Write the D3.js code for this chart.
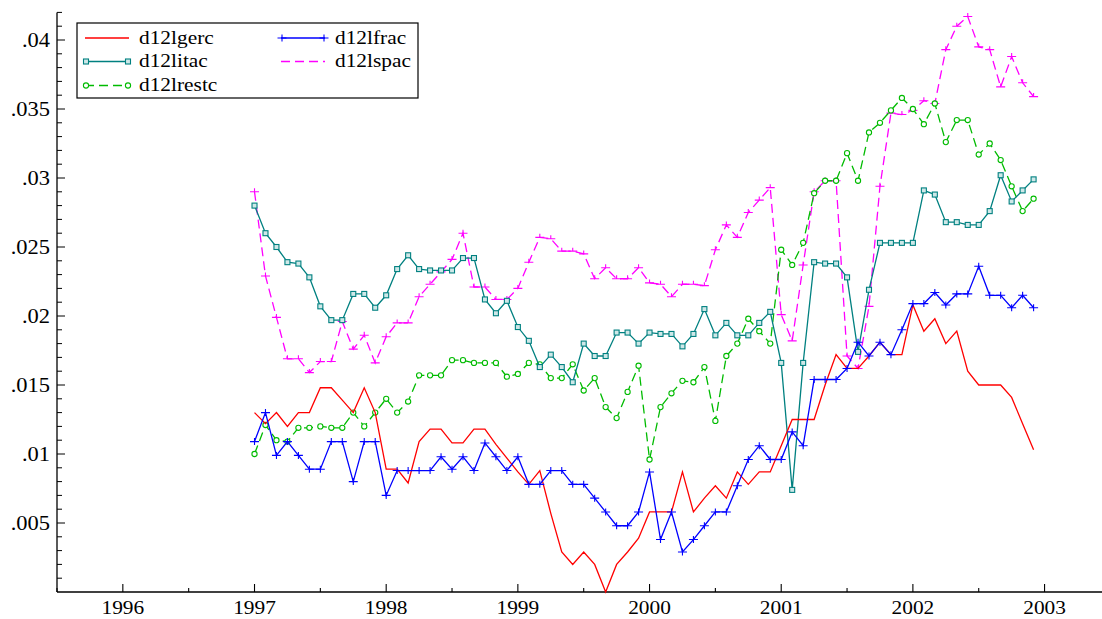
<!DOCTYPE html>
<html>
<head>
<meta charset="UTF-8">
<title>d12l series</title>
<style>
body { margin: 0; background: #fff; }
text { font-family: "Liberation Serif", "DejaVu Serif", "Times New Roman", Times, serif; fill: #000; }
</style>
</head>
<body>
<svg width="1102" height="619"></svg>
<script src="https://d3js.org/d3.v7.min.js"></script>
<script>
// monthly observations, Jan 1997 .. Dec 2002
var startYear = 1997, nMonths = 72;
var yearTicks = [1996, 1997, 1998, 1999, 2000, 2001, 2002, 2003];
var yTickLabels = [.005, .01, .015, .02, .025, .03, .035, .04];

var gerc = [.0130,.0122,.0130,.0120,.0130,.0130,.0148,.0148,.0139,.0130,.0148,.0130,
  .0089,.0089,.0079,.0109,.0118,.0118,.0108,.0108,.0118,.0118,.0107,.0097,
  .0087,.0078,.0088,.0057,.0029,.0020,.0029,.0020,.0000,.0020,.0029,.0039,
  .0058,.0058,.0058,.0087,.0058,.0068,.0077,.0068,.0087,.0078,.0087,.0087,
  .0106,.0125,.0125,.0125,.0150,.0172,.0162,.0162,.0171,.0181,.0172,.0172,
  .0208,.0189,.0198,.0180,.0189,.0160,.0150,.0150,.0150,.0141,.0122,.0103];

var frac = [.0109,.0130,.0099,.0109,.0099,.0089,.0089,.0109,.0109,.0080,.0109,.0109,
  .0070,.0088,.0088,.0088,.0088,.0098,.0089,.0098,.0088,.0108,.0098,.0088,
  .0098,.0078,.0078,.0088,.0088,.0078,.0078,.0068,.0058,.0048,.0048,.0058,
  .0087,.0038,.0058,.0029,.0038,.0048,.0058,.0058,.0077,.0096,.0106,.0096,
  .0096,.0116,.0106,.0154,.0154,.0154,.0162,.0181,.0171,.0181,.0172,.0190,
  .0209,.0209,.0217,.0208,.0216,.0216,.0236,.0215,.0215,.0206,.0215,.0206];

var itac = [.0280,.0260,.0250,.0239,.0238,.0228,.0207,.0197,.0197,.0216,.0216,.0206,
  .0215,.0234,.0244,.0234,.0233,.0233,.0233,.0242,.0242,.0212,.0202,.0211,
  .0192,.0182,.0163,.0172,.0163,.0152,.0180,.0171,.0171,.0188,.0188,.0180,
  .0188,.0187,.0187,.0178,.0187,.0205,.0186,.0195,.0186,.0186,.0195,.0203,
  .0166,.0074,.0166,.0239,.0238,.0238,.0228,.0174,.0219,.0253,.0253,.0253,
  .0253,.0291,.0288,.0268,.0268,.0266,.0266,.0276,.0302,.0283,.0291,.0299];

var spac = [.0290,.0229,.0199,.0169,.0169,.0159,.0167,.0167,.0196,.0176,.0186,.0166,
  .0185,.0195,.0195,.0214,.0223,.0232,.0241,.0260,.0221,.0221,.0212,.0212,
  .0220,.0239,.0257,.0256,.0247,.0247,.0245,.0227,.0235,.0227,.0227,.0235,
  .0224,.0223,.0214,.0223,.0223,.0222,.0248,.0266,.0257,.0275,.0284,.0293,
  .0201,.0182,.0237,.0290,.0298,.0298,.0171,.0162,.0207,.0294,.0347,.0346,
  .0349,.0356,.0354,.0393,.0410,.0417,.0395,.0393,.0366,.0388,.0369,.0359];

var restc = [.0100,.0121,.0110,.0109,.0119,.0119,.0120,.0119,.0119,.0130,.0120,.0130,
  .0140,.0130,.0138,.0157,.0157,.0157,.0168,.0168,.0166,.0166,.0166,.0156,
  .0158,.0166,.0165,.0155,.0155,.0165,.0146,.0155,.0134,.0126,.0145,.0164,
  .0096,.0134,.0144,.0153,.0152,.0163,.0124,.0171,.0180,.0198,.0189,.0180,
  .0248,.0237,.0253,.0289,.0298,.0298,.0318,.0298,.0333,.0340,.0349,.0358,
  .0350,.0339,.0354,.0326,.0342,.0342,.0317,.0325,.0313,.0294,.0276,.0285];

var svg = d3.select("svg");
var x = d3.scaleLinear().domain([1995.5, 2003.5]).range([57, 1110.4]);
var y = d3.scaleLinear().domain([0, 0.042]).range([592, 12.4]);

// the reference glyphs are a little wide: fit "1996" at 20px to ~45px
var probe = svg.append("text").style("font-size", "20px").text("1996");
var xStretch = 45 / probe.node().getComputedTextLength();
probe.remove();

function label(txt, px, py, anchor, size) {
  svg.append("text")
    .attr("transform", "translate(" + px + "," + py + ") scale(" + xStretch + ",1)")
    .attr("text-anchor", anchor)
    .attr("dominant-baseline", "central")
    .style("font-size", size + "px")
    .text(txt);
}

// axes (ticks point inward)
var xAxis = svg.append("g");
xAxis.append("line").attr("x1", 57).attr("x2", 1102).attr("y1", 592).attr("y2", 592)
  .attr("stroke", "#000").attr("stroke-width", 1.3);
d3.range(1995.5, 2003.51, 0.5).forEach(function(t) {
  var major = Math.abs(t - Math.round(t)) < 1e-6;
  xAxis.append("line").attr("x1", x(t)).attr("x2", x(t))
    .attr("y1", 592).attr("y2", 592 - (major ? 8 : 4))
    .attr("stroke", "#000").attr("stroke-width", 1.1);
});
yearTicks.forEach(function(t) { label(String(t), x(t), 607.5, "middle", 19); });

var yAxis = svg.append("g");
yAxis.append("line").attr("x1", 57).attr("x2", 57).attr("y1", y(0.042)).attr("y2", 592)
  .attr("stroke", "#000").attr("stroke-width", 1.3);
d3.range(1, 43).forEach(function(k) {
  var v = k / 1000, major = k % 5 === 0;
  yAxis.append("line").attr("x1", 57).attr("x2", 57 + (major ? 8 : 5))
    .attr("y1", y(v)).attr("y2", y(v))
    .attr("stroke", "#000").attr("stroke-width", 1);
});
yTickLabels.forEach(function(v) {
  label(d3.format(".3~f")(v).replace(/^0/, ""), 50, y(v), "end", 20);
});

// series
var dates = d3.range(nMonths).map(function(i) { return startYear + i / 12; });
var line = d3.line().x(function(d, i) { return x(dates[i]); }).y(function(d) { return y(d); });

var series = [
  {name: "d12lgerc", data: gerc, color: "#ff0000", dash: null, marker: null},
  {name: "d12lfrac", data: frac, color: "#0000ff", dash: null, marker: "plus"},
  {name: "d12litac", data: itac, color: "#008080", dash: null, marker: "square"},
  {name: "d12lspac", data: spac, color: "#ff00ff", dash: "9,5", marker: "tee"},
  {name: "d12lrestc", data: restc, color: "#00bb00", dash: "9,5", marker: "circle"}
];

function drawMarker(g, type, color, px, py) {
  if (type === "plus") {
    g.append("path").attr("d", "M" + (px - 4.5) + "," + py + "H" + (px + 4.5) + "M" + px + "," + (py - 3.5) + "V" + (py + 3.5))
      .attr("stroke", color).attr("stroke-width", 1.1).attr("fill", "none");
  } else if (type === "square") {
    g.append("rect").attr("x", px - 2.5).attr("y", py - 2.5).attr("width", 5).attr("height", 5)
      .attr("stroke", color).attr("stroke-width", 1.1).attr("fill", "#cfe8e8");
  } else if (type === "circle") {
    g.append("circle").attr("cx", px).attr("cy", py).attr("r", 2.6)
      .attr("stroke", color).attr("stroke-width", 1.1).attr("fill", "#fff");
  } else if (type === "tee") {
    g.append("path").attr("d", "M" + (px - 4.5) + "," + py + "H" + (px + 4.5) + "M" + px + "," + (py - 3.5) + "V" + py)
      .attr("stroke", color).attr("stroke-width", 1.1).attr("fill", "none");
  }
}

// draw order: back to front
[series[3], series[4], series[2], series[0], series[1]].forEach(function(s) {
  var g = svg.append("g");
  g.append("path").datum(s.data).attr("d", line)
    .attr("fill", "none").attr("stroke", s.color).attr("stroke-width", 1.3)
    .attr("stroke-dasharray", s.dash);
  if (s.marker) {
    s.data.forEach(function(v, i) { drawMarker(g, s.marker, s.color, x(dates[i]), y(v)); });
  }
});

// legend
var lg = svg.append("g");
lg.append("rect").attr("x", 77).attr("y", 23).attr("width", 341).attr("height", 75)
  .attr("fill", "#fff").attr("stroke", "#000").attr("stroke-width", 1.2);
var legendPos = [
  {s: series[0], lx: 85, ly: 38},
  {s: series[1], lx: 281, ly: 38},
  {s: series[2], lx: 85, ly: 61.5},
  {s: series[3], lx: 281, ly: 61.5},
  {s: series[4], lx: 85, ly: 85.5}
];
legendPos.forEach(function(p) {
  var s = p.s;
  lg.append("line").attr("x1", p.lx).attr("x2", p.lx + 44).attr("y1", p.ly).attr("y2", p.ly)
    .attr("stroke", s.color).attr("stroke-width", 1.3).attr("stroke-dasharray", s.dash);
  if (s.marker && s.marker !== "tee") {
    drawMarker(lg, s.marker, s.color, p.lx + 1, p.ly);
    drawMarker(lg, s.marker, s.color, p.lx + 43, p.ly);
  }
  label(s.name, p.lx + 54, p.ly - 1, "start", 19);
});
</script>
</body>
</html>
